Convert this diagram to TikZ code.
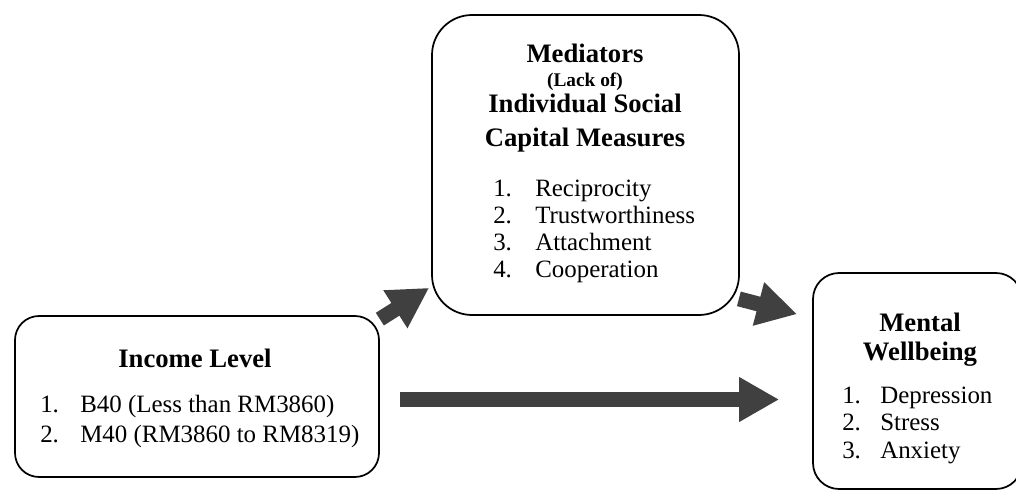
\documentclass[tikz,border=0pt]{standalone}
\usepackage{fontspec}
\setmainfont{Liberation Serif}
\usetikzlibrary{arrows.meta,positioning}
\definecolor{arrowgray}{HTML}{404040}
\tikzset{
  box/.style={draw, line width=1.3pt, rounded corners=#1, inner sep=0pt},
  heading/.style={font=\fontsize{20}{24}\selectfont\bfseries, anchor=base, inner sep=0pt},
  item/.style={font=\fontsize{18.7}{22}\selectfont, anchor=base west, inner sep=0pt},
  fat/.style={arrowgray, line width=11.25pt, -{Triangle[length=30pt,width=31.5pt]}}
}
\begin{document}
\begin{tikzpicture}[x=0.75pt,y=-0.75pt]
    \useasboundingbox (0,0) rectangle (1016,491);
    \node[box=18pt, minimum width=273pt, minimum height=120.75pt] (income) at (197,396.5) {};
    \node[box=30pt, minimum width=230.25pt, minimum height=225pt] (med) at (585.5,165) {};
    \node[box=19.5pt, minimum width=156.75pt, minimum height=162pt] (mental) at (917.5,381) {};

    \node[heading] (income-title) at (195,367) {Income Level};
    \foreach \lbl [count=\i] in {{B40 (Less than RM3860)},{M40 (RM3860 to RM8319)}}
        \node[item] (income-\i) at (40,{382+30*\i}) {\makebox[30pt][l]{\i.}\lbl};

    \node[heading] (med-title) at (585,63) {Mediators};
    \node[heading, font=\fontsize{14.5}{17}\selectfont\bfseries] (med-lack) at (585,87) {(Lack of)};
    \node[heading] (med-ind) at (585,113) {Individual Social};
    \node[heading] (med-cap) at (585,147) {Capital Measures};
    \foreach \lbl [count=\i] in {Reciprocity,Trustworthiness,Attachment,Cooperation}
        \node[item] (med-\i) at (493,{170+27*\i}) {\makebox[31.5pt][l]{\i.}\lbl};

    \node[heading] (mental-title) at (920,331) {Mental};
    \node[heading] (mental-sub) at (920,360) {Wellbeing};
    \foreach \lbl [count=\i] in {Depression,Stress,Anxiety}
        \node[item] (mental-\i) at (842,{375.5+27.5*\i}) {\makebox[28.5pt][l]{\i.}\lbl};

    \draw[fat] ([shift={(0,4)}]income.north east) -- ([shift={(-2,-28)}]med.south west);
    \draw[fat] ([shift={(-1,-17)}]med.south east) -- ([shift={(-15,42)}]mental.north west);
    \coordinate (tail) at ([shift={(20,3)}]income.east);
    \draw[fat, shorten >=24.75pt] (tail) -- (tail -| mental.west);
\end{tikzpicture}
\end{document}
